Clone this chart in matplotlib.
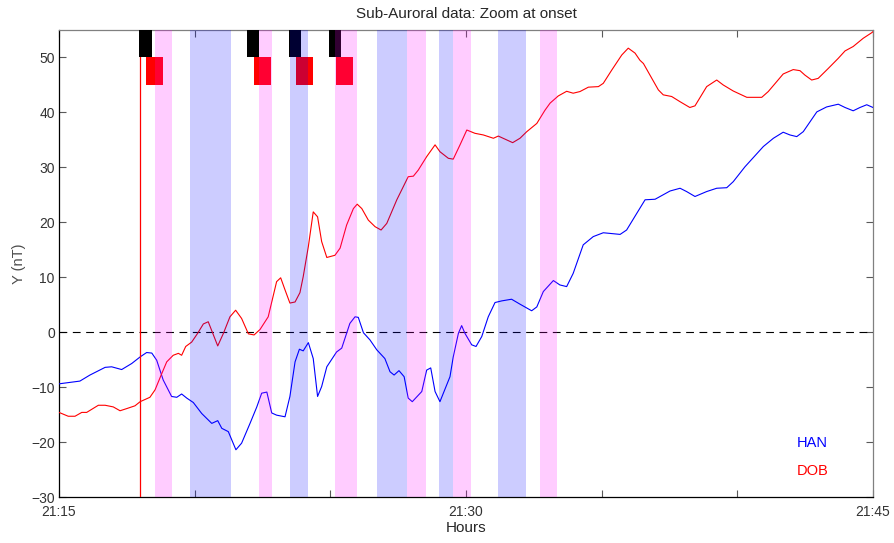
import matplotlib
matplotlib.use("Agg")
import matplotlib.pyplot as plt
from matplotlib.ticker import FixedLocator, MultipleLocator

plt.rcParams["font.family"] = ["Liberation Sans", "DejaVu Sans"]

# minutes after 21:15
han_t = [0.0, 0.77, 1.14, 1.70, 1.94, 2.31, 2.68, 2.99, 3.23, 3.42, 3.60, 3.84, 4.15, 4.34,
         4.52, 4.71, 4.95, 5.26, 5.63, 5.85, 6.00, 6.24, 6.52, 6.73, 7.04, 7.29, 7.47, 7.66,
         7.84, 8.02, 8.33, 8.51, 8.70, 8.86, 9.00, 9.19, 9.37, 9.53, 9.68, 9.87, 10.23, 10.42,
         10.72, 10.91, 11.03, 11.22, 11.46, 11.71, 12.01, 12.20, 12.35, 12.53, 12.72, 12.87,
         13.02, 13.37, 13.55, 13.70, 13.86, 14.04, 14.41, 14.53, 14.72, 14.84, 14.96, 15.21,
         15.37, 15.58, 15.82, 16.07, 16.32, 16.68, 16.99, 17.42, 17.61, 17.85, 18.22, 18.46,
         18.71, 18.95, 19.32, 19.69, 20.06, 20.68, 20.92, 21.29, 21.60, 21.97, 22.52, 22.89,
         23.13, 23.44, 23.87, 24.24, 24.61, 24.85, 25.28, 25.96, 26.33, 26.69, 26.94, 27.19,
         27.43, 27.68, 27.93, 28.29, 28.72, 28.97, 29.27, 29.52, 29.77, 30.0]
han_y = [-9.4, -8.9, -7.8, -6.4, -6.3, -6.8, -5.7, -4.5, -3.7, -3.8, -5.1, -8.7, -11.7, -11.85,
         -11.25, -12.0, -12.8, -14.8, -16.6, -16.1, -17.5, -18.1, -21.4, -20.2, -16.6, -13.6, -11.1, -10.9,
         -14.7, -15.1, -15.4, -11.7, -5.4, -3.1, -3.4, -1.9, -4.8, -11.7, -9.9, -6.3, -3.6, -2.9,
         1.6, 2.8, 2.7, -0.1, -1.4, -3.2, -4.8, -7.2, -7.8, -7.0, -8.1, -12.0,
         -12.65, -10.8, -6.9, -6.5, -10.8, -12.65, -8.1, -4.5, -0.2, 1.2, -0.2, -2.3,
         -2.6, -0.8, 2.8, 5.4, 5.7, 6.0, 5.1, 3.9, 4.6, 7.4, 9.4, 8.6,
         8.3, 10.7, 15.9, 17.4, 18.1, 17.8, 18.6, 21.6, 24.1, 24.2, 25.7, 26.2,
         25.6, 24.7, 25.6, 26.2, 26.3, 27.4, 30.1, 33.8, 35.3, 36.4, 35.9, 35.6,
         36.5, 38.3, 40.1, 41.0, 41.5, 40.9, 40.3, 40.9, 41.4, 40.9]

dob_t = [0.0, 0.34, 0.59, 0.84, 1.02, 1.45, 1.70, 2.00, 2.25, 2.50, 2.80, 2.99, 3.35, 3.54,
         3.79, 3.97, 4.21, 4.40, 4.52, 4.67, 4.89, 5.11, 5.32, 5.50, 5.85, 6.06, 6.30, 6.51,
         6.73, 6.98, 7.19, 7.41, 7.71, 8.02, 8.17, 8.33, 8.51, 8.70, 8.88, 9.00, 9.19, 9.37,
         9.53, 9.68, 9.87, 10.17, 10.36, 10.60, 10.85, 10.99, 11.16, 11.40, 11.65, 11.87,
         12.08, 12.45, 12.69, 12.87, 13.06, 13.24, 13.55, 13.86, 14.04, 14.35, 14.53, 14.78,
         15.03, 15.33, 15.64, 16.01, 16.19, 16.50, 16.72, 16.99, 17.24, 17.61, 17.91, 18.10,
         18.40, 18.71, 18.95, 19.20, 19.51, 19.88, 20.06, 20.37, 20.74, 20.98, 21.23, 21.41,
         21.54, 21.78, 22.09, 22.27, 22.58, 22.89, 23.25, 23.44, 23.87, 24.24, 24.48, 24.85,
         25.35, 25.90, 26.14, 26.45, 26.69, 27.06, 27.31, 27.49, 27.74, 27.98, 28.35, 28.72,
         28.97, 29.27, 29.64, 29.95, 30.0]
dob_y = [-14.6, -15.3, -15.3, -14.6, -14.6, -13.3, -13.3, -13.6, -14.3, -13.9, -13.4, -12.65, -11.85, -10.5,
         -7.5, -5.4, -4.2, -3.85, -4.2, -2.6, -1.8, -0.2, 1.5, 1.9, -2.5, -0.2, 2.8, 4.0,
         2.5, -0.3, -0.5, 0.5, 2.8, 9.2, 9.9, 7.7, 5.3, 5.5, 7.2, 10.1, 15.6, 21.9,
         21.0, 16.5, 13.6, 14.0, 15.3, 19.5, 22.5, 23.3, 22.5, 20.4, 19.2, 18.6,
         19.8, 24.1, 26.5, 28.3, 28.4, 29.5, 31.95, 34.1, 32.85, 31.65, 31.5, 34.1,
         36.8, 36.2, 35.9, 35.3, 35.7, 35.0, 34.5, 35.3, 36.5, 38.0, 40.4, 41.7,
         43.0, 43.85, 43.5, 43.8, 44.6, 44.7, 45.3, 47.7, 50.45, 51.7, 50.8, 49.5,
         48.9, 46.8, 44.1, 43.2, 42.9, 41.95, 40.9, 41.2, 44.7, 45.9, 45.0, 43.9,
         42.75, 42.75, 43.8, 45.6, 47.0, 47.8, 47.6, 46.8, 45.9, 46.2, 48.0, 49.85,
         51.2, 52.0, 53.5, 54.5, 54.7]

onset_t = 3.0

pink_bands = [(3.53, 4.15), (7.38, 7.85), (10.17, 11.0), (12.84, 13.52), (14.51, 15.19), (17.73, 18.36)]
blue_bands = [(4.83, 6.33), (8.50, 9.18), (11.71, 12.84), (14.02, 14.51), (16.19, 17.21)]
black_boxes = [(2.95, 3.42), (6.94, 7.38), (8.47, 8.92), (9.96, 10.41)]
red_boxes = [(3.21, 3.84), (7.19, 7.81), (8.72, 9.35), (10.2, 10.85)]

xtick_pos = [0, 15, 30]
xtick_labels = ["21:15", "21:30", "21:45"]

fig = plt.figure(figsize=(8.94, 5.43), dpi=100)
ax = fig.add_axes([0.066, 0.0847, 0.9105, 0.86])

ax.plot(han_t, han_y, color="blue", lw=0.8, zorder=3)
ax.plot(dob_t, dob_y, color="red", lw=0.8, zorder=3)
ax.axhline(0, color="black", lw=0.8, dashes=(7, 5), zorder=2)
ax.axvline(onset_t, color="red", lw=0.9, zorder=3)

for a, b in black_boxes:
    ax.fill_between([a, b], 50, 55, color="black", lw=0, zorder=4)
for a, b in red_boxes:
    ax.fill_between([a, b], 45, 50, color="red", lw=0, zorder=4)

# bands go over everything, semi-transparent
for a, b in pink_bands:
    ax.axvspan(a, b, color="magenta", alpha=0.2, lw=0, zorder=5)
for a, b in blue_bands:
    ax.axvspan(a, b, color="blue", alpha=0.2, lw=0, zorder=5)

ax.text(27.2, -20.2, "HAN", color="blue", fontsize=10.5, va="center", ha="left")
ax.text(27.2, -25.3, "DOB", color="red", fontsize=10.5, va="center", ha="left")

ax.set_xlim(0, 30)
ax.set_ylim(-30, 55)
ax.xaxis.set_major_locator(FixedLocator(xtick_pos))
ax.set_xticklabels(xtick_labels)
ax.xaxis.set_minor_locator(MultipleLocator(5))
ax.yaxis.set_major_locator(MultipleLocator(10))

ax.tick_params(which="both", direction="in", top=True, right=True, length=5,
               width=0.8, color="0.35", labelsize=10, labelcolor="0.2")
ax.tick_params(axis="x", pad=6)
ax.tick_params(axis="y", pad=3)
ax.tick_params(axis="x", which="minor", length=5)

for side in ["left", "bottom"]:
    ax.spines[side].set_color("black")
for side in ["top", "right"]:
    ax.spines[side].set_color("0.5")
for s in ax.spines.values():
    s.set_linewidth(0.9)

ax.set_title("Sub-Auroral data: Zoom at onset", fontsize=11, color="0.15", pad=9)
ax.set_xlabel("Hours", fontsize=11, color="0.15", labelpad=1)
ax.set_ylabel("Y (nT)", fontsize=10.5, color="0.3", labelpad=4)

fig.savefig("out.png", dpi=100)
